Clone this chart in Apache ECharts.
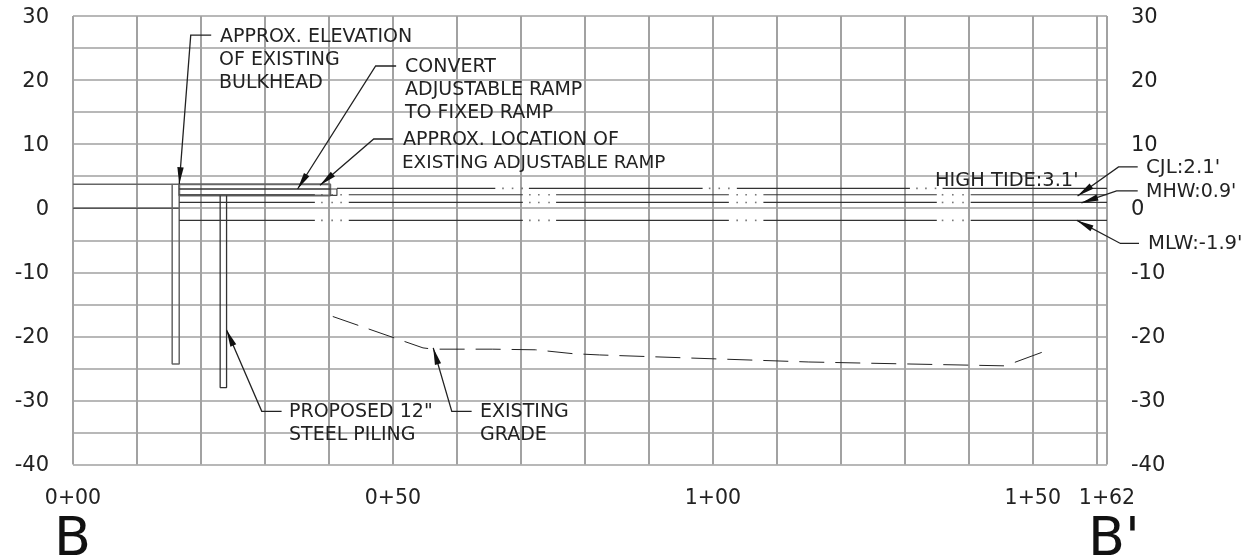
<!DOCTYPE html>
<html>
<head>
<meta charset="utf-8">
<style>html,body{margin:0;padding:0;background:#fff}#c{width:1246px;height:558px}</style>
<script src="https://cdn.jsdelivr.net/npm/echarts@6/dist/echarts.min.js"></script>
</head>
<body>
<div id="c"></div>
<script>
// Stations in feet, elevations in feet
const stationLabels = {0:'0+00',50:'0+50',100:'1+00',150:'1+50',161.6:'1+62'};
const stationTicks = [0,50,100,150,161.6];
const elevationTicks = [-40,-30,-20,-10,0,10,20,30];

const highTide = 3.1, cjl = 2.1, mhw = 0.9, mlw = -1.9;

const highTideSegments = [[41.25,66],[71.25,98.4],[103.75,130.8],[135.9,161.6]];
const highTideDots = [67.2,68.7,70.2,99.5,101,102.5,131.9,133.3,134.8];
const tideSegments = [[16.6,37.8],[43.1,70.3],[75.5,102.5],[107.9,135],[140.3,161.6]];
const tideDots = [38.9,40.5,41.9,71.4,72.8,74.4,103.8,105.2,106.7,135.9,137.5,139.1];

const gradeWest = [[40.6,-16.9],[54.7,-21.8],[55.5,-21.9]];
const gradeMiddle = [[57.3,-22],[65.6,-22],[72.3,-22.1],[78.1,-22.7],[82.3,-22.9],[100,-23.5],[115,-24],[130,-24.3],[145.5,-24.6]];
const gradeEast = [[147.2,-24.05],[151.4,-22.5]];
const bulkheadPile = [[16.6,3.75],[15.5,3.75],[15.5,-24.3],[15.8,-24.6],[16.2,-24.3],[16.6,-24.3],[16.6,3.75]];
const upperGround = [[0,3.75],[15.5,3.75]];
const lowerGround = [[0,0],[16.6,0]];
const ramp = [[16.6,3.75],[40.2,3.75],[40.2,2],[16.6,2],[16.6,3.75]];
const rampInner = [[16.6,3],[40.2,3]];
const rampToe = [[40.2,3],[41.25,3],[41.25,2],[40.2,2]];
const proposedPile = [[23,2],[23,-28],[24,-28],[24,2]];

// each leader: text end, knee, arrow tip
const leaders = [
  [21.6,27,18.4,27,16.6,3.75],
  [50.5,22.2,47.3,22.2,35.1,3],
  [50,10.8,47,10.8,38.6,3.6],
  [32.6,-31.7,29.5,-31.7,24,-19],
  [62.3,-31.7,59.2,-31.7,56.3,-21.8],
  [166.4,6.45,163.4,6.45,157,1.9],
  [166.4,2.7,163.1,2.7,157.6,0.83],
  [166.6,-5.5,163.7,-5.5,156.9,-1.9]
];

const calloutTexts = ['APPROX. ELEVATION','OF EXISTING','BULKHEAD','CONVERT','ADJUSTABLE RAMP','TO FIXED RAMP','APPROX. LOCATION OF','EXISTING ADJUSTABLE RAMP',"HIGH TIDE:3.1'","CJL:2.1'","MHW:0.9'","MLW:-1.9'",'PROPOSED 12"','STEEL PILING','EXISTING','GRADE'];
const calloutPlaces = [[220,37],[219,60],[219,83],[405,67],[405,90],[405,113],[403,140],[402,163],[935,181],[1146,168],[1146,192],[1148,244],[289,412],[289,435],[480,412],[480,435]];
const calloutSizes = [19,19,19,19,19,19,19,18.4,19.4,19.8,19,19.6,19,19,19,19];
const sectionMarks = ['B',"B'"];

const ink = '#222';
const font = '"DejaVu Sans"';

function lineSeries(data, color, width, extra) {
  return Object.assign({type:'line',data:data,symbol:'none',silent:true,clip:false,
    lineStyle:{color:color,width:width},z:3}, extra||{});
}
const series = [];
series.push(lineSeries(upperGround,'#666',1.5));
series.push(lineSeries(lowerGround,'#555',1.5));
series.push(lineSeries(bulkheadPile,'#666',1.5));
series.push(lineSeries(ramp,'#666',2));
series.push(lineSeries(rampInner,'#333',1.5));
series.push(lineSeries(rampToe,'#444',1.2));
series.push(lineSeries(proposedPile,'#333',1.3));
highTideSegments.forEach(s=>series.push(lineSeries(s.map(x=>[x,highTide]),'#333',1.2)));
[cjl,mhw,mlw].forEach(level=>tideSegments.forEach(s=>series.push(lineSeries(s.map(x=>[x,level]),'#333',1.2))));
series.push({type:'scatter',silent:true,symbol:'rect',symbolSize:1.6,itemStyle:{color:'#555'},z:3,
  data:highTideDots.map(x=>[x,highTide]).concat(...[cjl,mhw,mlw].map(l=>tideDots.map(x=>[x,l])))});
series.push(lineSeries(gradeWest,ink,1,{lineStyle:{color:ink,width:1,type:[27,11]}}));
series.push(lineSeries(gradeMiddle,ink,1,{lineStyle:{color:ink,width:1,type:[25,11]}}));
series.push(lineSeries(gradeEast,ink,1));
series.push({type:'custom',silent:true,clip:false,z:4,
  data:leaders,
  encode:{x:[0,2,4],y:[1,3,5]},
  renderItem:function(p,api){
    const s=api.coord([api.value(0),api.value(1)]), a=api.coord([api.value(2),api.value(3)]), b=api.coord([api.value(4),api.value(5)]);
    const dx=b[0]-a[0], dy=b[1]-a[1], n=Math.hypot(dx,dy)||1, ux=dx/n, uy=dy/n;
    const L=17, W=3.2;
    return {type:'group',children:[
      {type:'polyline',shape:{points:[s,a,b]},style:{stroke:ink,lineWidth:1.3,fill:null}},
      {type:'polygon',shape:{points:[b,[b[0]-ux*L-uy*W,b[1]-uy*L+ux*W],[b[0]-ux*L+uy*W,b[1]-uy*L-ux*W]]},style:{fill:'#111'}}
    ]};
  }});

const graphic = calloutTexts.map((t,i)=>({type:'text',x:calloutPlaces[i][0],y:calloutPlaces[i][1],z:10,silent:true,
  style:{text:t,fontFamily:font,fontSize:calloutSizes[i],fill:ink,textVerticalAlign:'middle',textAlign:'left'}}));
graphic.push({type:'text',x:54,y:541,z:10,silent:true,style:{text:sectionMarks[0],fontFamily:font,fontSize:54,fill:'#111',textVerticalAlign:'middle'}});
graphic.push({type:'text',x:1088,y:541,z:10,silent:true,style:{text:sectionMarks[1],fontFamily:font,fontSize:54,fill:'#111',textVerticalAlign:'middle'}});

const splitH = {show:true,lineStyle:{color:'#b8b8b8',width:2}};
const yAxisBase = {type:'value',min:-40,max:30,interval:5,
  axisLine:{show:false},axisTick:{show:false},
  axisLabel:{customValues:elevationTicks,fontFamily:font,fontSize:21,color:ink,margin:24,verticalAlign:'top',lineHeight:3}};

const chart = echarts.init(document.getElementById('c'),null,{renderer:'canvas'});
chart.setOption({
  animation:false,
  backgroundColor:'#fff',
  graphic:graphic,
  grid:{left:73,top:16,width:1034,height:448.5,containLabel:false,show:false},
  xAxis:{type:'value',min:0,max:161.6,interval:10,
    axisLine:{show:false},axisTick:{show:false},
    splitLine:{show:true,lineStyle:{color:'#a2a2a2',width:2}},
    axisLabel:{customValues:stationTicks,formatter:v=>stationLabels[v],fontFamily:font,fontSize:20.5,color:ink,margin:24}},
  yAxis:[
    Object.assign({},yAxisBase,{position:'left',splitLine:splitH}),
    Object.assign({},yAxisBase,{position:'right',splitLine:{show:false}})
  ],
  series:series
});
</script>
</body>
</html>
